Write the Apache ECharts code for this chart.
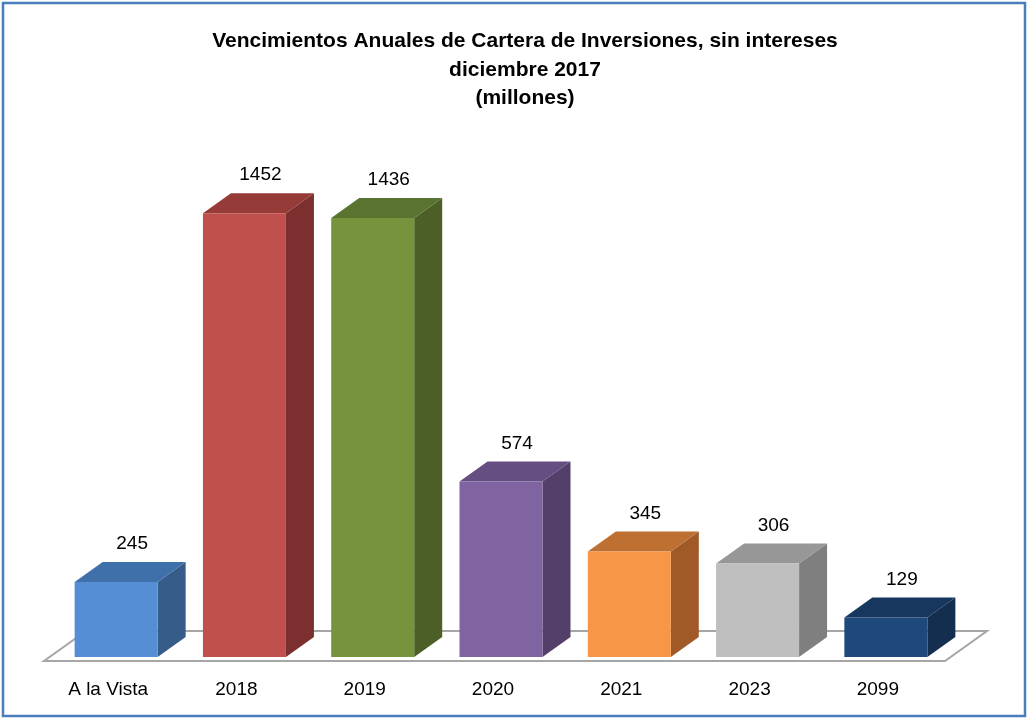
<!DOCTYPE html>
<html>
<head>
<meta charset="utf-8">
<script src="https://cdn.jsdelivr.net/npm/echarts@6/dist/echarts.min.js"></script>
<style>
  html, body { margin: 0; padding: 0; background: #fff; }
  #chart { width: 1029px; height: 719px; }
</style>
</head>
<body>
<div id="chart"></div>
<script>
// datos del grafico
var categories = ['A la Vista', '2018', '2019', '2020', '2021', '2023', '2099'];
var values = [245, 1452, 1436, 574, 345, 306, 129];

// colores por barra: frente, tapa, lateral
var frontColors = ['#558ED5', '#C0504D', '#77933C', '#8064A2', '#F79646', '#BFBFBF', '#1F497D'];
var topColors   = ['#4070AA', '#973B39', '#5B7330', '#654E81', '#BD7032', '#979797', '#17375E'];
var sideColors  = ['#365C8A', '#7B2F2E', '#4B5F27', '#533F6A', '#A05A27', '#7F7F7F', '#142E50'];

var chart = echarts.init(document.getElementById('chart'));

var barW = 83, dx = 28, dy = -20;

function renderBar(params, api) {
    var i = api.value(0);
    var top = api.coord([i, api.value(1)]);
    var base = api.coord([i, 0]);
    var x0 = top[0] - barW / 2, x1 = top[0] + barW / 2;
    var yt = top[1], yb = base[1];
    return {
        type: 'group',
        children: [
            {
                type: 'polygon',
                shape: { points: [[x1, yb], [x1 + dx, yb + dy], [x1 + dx, yt + dy], [x1, yt]] },
                style: { fill: sideColors[i] }
            },
            {
                type: 'polygon',
                shape: { points: [[x0, yt], [x1, yt], [x1 + dx, yt + dy], [x0 + dx, yt + dy]] },
                style: { fill: topColors[i] }
            },
            {
                type: 'rect',
                shape: { x: x0, y: yt, width: barW, height: yb - yt },
                style: { fill: frontColors[i] }
            },
            {
                type: 'text',
                x: top[0] + 16,
                y: yt + dy - 18,
                style: {
                    text: String(values[i]),
                    fill: '#000',
                    font: '19px "Liberation Sans", Arial, sans-serif',
                    align: 'center',
                    verticalAlign: 'middle'
                }
            }
        ]
    };
}

var option = {
    backgroundColor: '#fff',
    animation: false,
    title: {
        text: 'Vencimientos Anuales de Cartera de Inversiones, sin intereses\ndiciembre 2017\n(millones)',
        left: 520,
        top: 22,
        textAlign: 'center',
        textStyle: {
            fontFamily: '"Liberation Sans", Arial, sans-serif',
            fontSize: 21,
            fontWeight: 'bold',
            color: '#000',
            lineHeight: 28.5
        }
    },
    grid: { left: 52, right: 79, top: 168, bottom: 62 },
    xAxis: {
        type: 'category',
        data: categories,
        axisLine: { show: false },
        axisTick: { show: false },
        axisLabel: {
            margin: 23,
            padding: [0, 16, 0, 0],
            color: '#000',
            fontSize: 19,
            fontFamily: '"Liberation Sans", Arial, sans-serif'
        }
    },
    yAxis: {
        type: 'value',
        min: 0,
        max: 1600,
        show: false,
        splitLine: { show: false }
    },
    graphic: [
        {
            type: 'polygon',
            z: 0,
            shape: { points: [[44, 661], [945, 661], [987, 631], [86, 631]] },
            style: { fill: '#fff', stroke: '#A6A6A6', lineWidth: 2 }
        },
        {
            type: 'rect',
            z: 10,
            shape: { x: 3, y: 3, width: 1022, height: 713 },
            style: { fill: null, stroke: '#4A7EBB', lineWidth: 2.5 }
        }
    ],
    series: [{
        type: 'custom',
        z: 5,
        renderItem: renderBar,
        data: values.map(function (v, i) { return [i, v]; })
    }]
};

chart.setOption(option);
</script>
</body>
</html>
